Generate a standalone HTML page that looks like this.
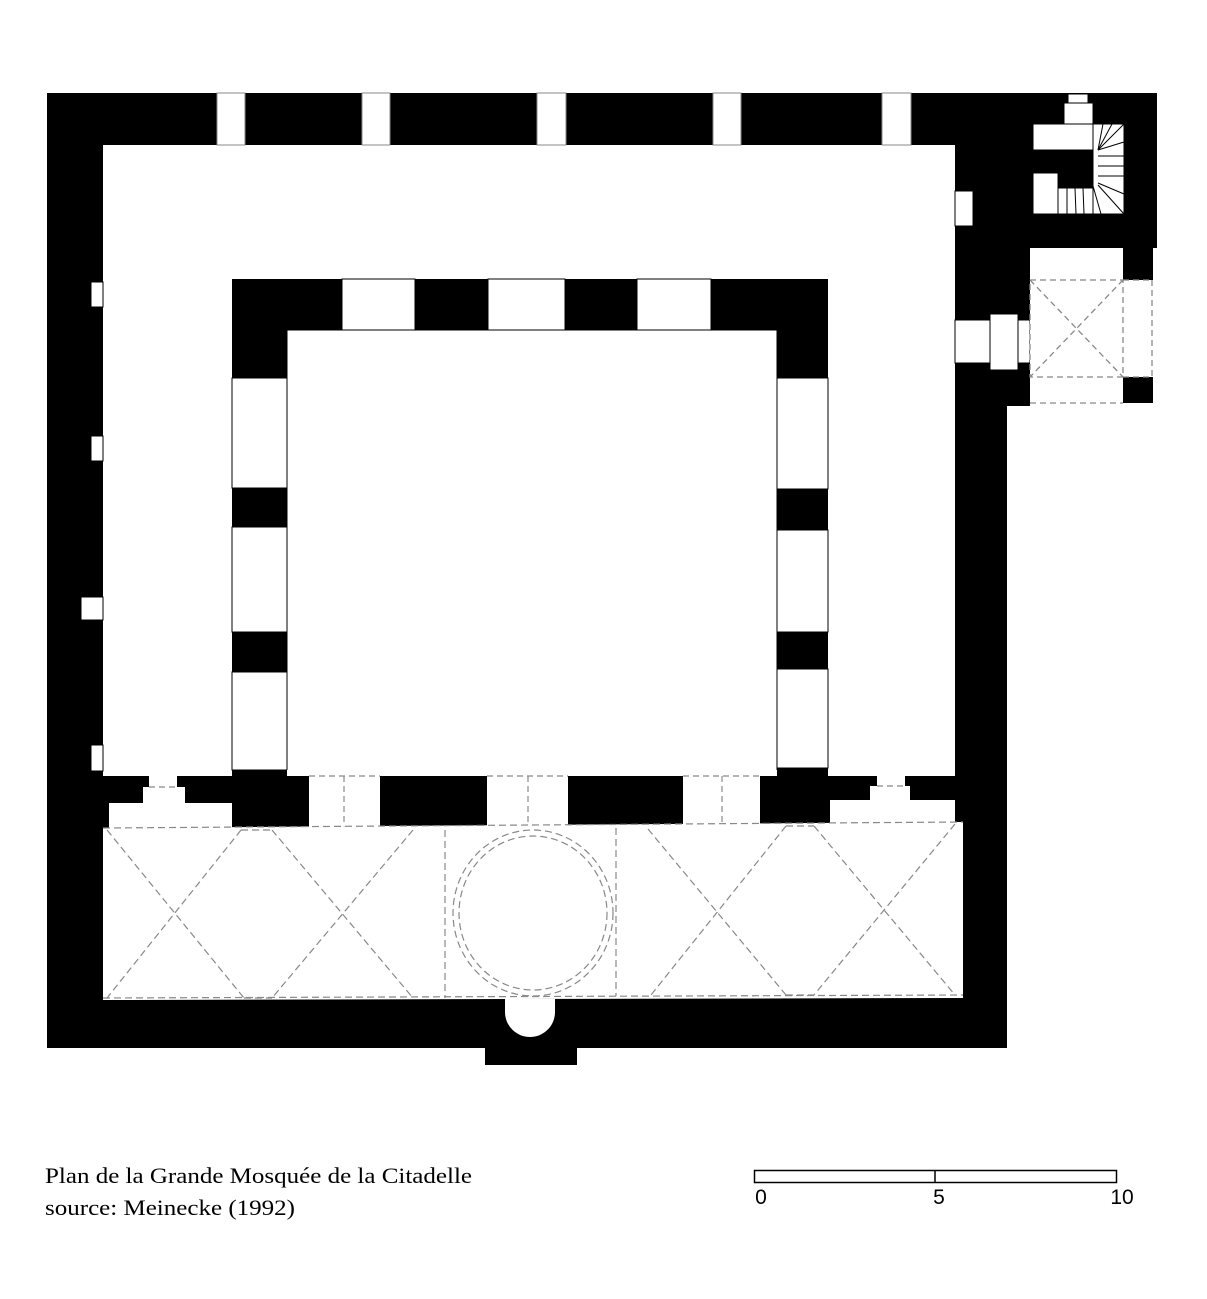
<!DOCTYPE html>
<html><head><meta charset="utf-8"><style>
html,body{margin:0;padding:0;background:#fff;}
svg{display:block;}
</style></head><body>
<svg width="1207" height="1299" viewBox="0 0 1207 1299" xmlns="http://www.w3.org/2000/svg">
<rect width="1207" height="1299" fill="#fff"/>
<g fill="#000">
<rect x="47" y="93" width="960" height="955"/>
<rect x="1007" y="93" width="150" height="155"/>
<rect x="1007" y="247" width="23" height="159"/>
<rect x="1123" y="247" width="30" height="33"/>
<rect x="1123" y="377" width="30" height="26"/>
<rect x="485" y="1048" width="92" height="17"/>
</g>
<rect x="103" y="145" width="852" height="631" fill="#fff"/>
<g fill="#fff" stroke="#888" stroke-width="1">
<rect x="217" y="93" width="28" height="52"/>
<rect x="362" y="93" width="28" height="52"/>
<rect x="537" y="93" width="29" height="52"/>
<rect x="713" y="93" width="28" height="52"/>
<rect x="882" y="93" width="29" height="52"/>
</g>
<g fill="#fff" stroke="#000" stroke-width="1">
<rect x="91" y="282" width="12" height="25"/>
<rect x="91" y="436" width="12" height="25"/>
<rect x="81" y="597" width="22" height="23"/>
<rect x="91" y="745" width="12" height="26"/>
<rect x="955" y="191" width="18" height="35"/>
<rect x="955" y="320" width="35" height="43"/>
<rect x="990" y="314" width="28" height="56"/>
<rect x="1018" y="320" width="12" height="43"/>
<rect x="1068" y="94" width="20" height="9"/>
<rect x="1064" y="103" width="29" height="21"/>
<rect x="1033" y="124" width="60" height="26"/>
<rect x="1093" y="124" width="31" height="90"/>
<rect x="1033" y="173" width="25" height="41"/>
<rect x="1058" y="188" width="35" height="26"/>
</g>
<rect x="1034" y="174" width="23" height="39" fill="#fff"/>
<rect x="1059" y="189" width="33" height="24" fill="#fff"/>
<rect x="1058" y="150" width="35" height="38" fill="#000"/>
<g stroke="#000" stroke-width="1">
<line x1="1098" y1="150" x2="1103" y2="124"/>
<line x1="1098" y1="150" x2="1112" y2="124"/>
<line x1="1098" y1="150" x2="1124" y2="124"/>
<line x1="1098" y1="150" x2="1124" y2="142"/>
<line x1="1098" y1="156" x2="1124" y2="156"/>
<line x1="1098" y1="166" x2="1124" y2="166"/>
<line x1="1098" y1="176" x2="1124" y2="176"/>
<line x1="1098" y1="183" x2="1124" y2="194"/>
<line x1="1098" y1="185" x2="1124" y2="214"/>
<line x1="1093" y1="186" x2="1101" y2="214"/>
<line x1="1083" y1="188" x2="1084" y2="214"/>
<line x1="1075" y1="188" x2="1076" y2="214"/>
<line x1="1067" y1="188" x2="1067" y2="214"/>
</g>
<rect x="1030" y="248" width="93" height="155" fill="#fff"/>
<rect x="1123" y="280" width="30" height="97" fill="#fff"/>
<g fill="none" stroke="#888" stroke-width="1.3" stroke-dasharray="6,4">
<rect x="1030" y="280" width="93" height="97"/>
<line x1="1123" y1="280" x2="1152" y2="280"/>
<line x1="1123" y1="377" x2="1152" y2="377"/>
<line x1="1152" y1="280" x2="1152" y2="377"/>
<line x1="1030" y1="280" x2="1123" y2="377"/>
<line x1="1123" y1="280" x2="1030" y2="377"/>
<line x1="1030" y1="403" x2="1123" y2="403"/>
</g>
<rect x="232" y="279" width="596" height="549" fill="#000"/>
<g fill="#fff" stroke="#000" stroke-width="1">
<rect x="287" y="330" width="490" height="446"/>
<rect x="342" y="279" width="73" height="51"/>
<rect x="488" y="279" width="77" height="51"/>
<rect x="637" y="279" width="74" height="51"/>
<rect x="232" y="378" width="55" height="110"/>
<rect x="232" y="527" width="55" height="105"/>
<rect x="232" y="672" width="55" height="98"/>
<rect x="777" y="378" width="51" height="111"/>
<rect x="777" y="530" width="51" height="102"/>
<rect x="777" y="669" width="51" height="99"/>
</g>
<rect x="103" y="776" width="860" height="52" fill="#000"/>
<rect x="232" y="770" width="596" height="10" fill="#000"/>
<rect x="287" y="770" width="490" height="6" fill="#fff"/>
<g fill="#fff">
<rect x="309" y="776" width="71" height="51"/>
<rect x="487" y="776" width="81" height="51"/>
<rect x="683" y="776" width="77" height="51"/>
<rect x="109" y="803" width="123" height="25"/>
<rect x="143" y="787" width="42" height="16"/>
<rect x="149" y="776" width="28" height="11"/>
<rect x="830" y="800" width="125" height="26"/>
<rect x="870" y="786" width="40" height="16"/>
<rect x="877" y="776" width="28" height="10"/>
</g>
<g fill="none" stroke="#888" stroke-width="1.2" stroke-dasharray="6,4">
<line x1="309" y1="776" x2="380" y2="776"/><line x1="344" y1="776" x2="344" y2="827"/>
<line x1="487" y1="776" x2="568" y2="776"/><line x1="528" y1="776" x2="528" y2="827"/>
<line x1="683" y1="776" x2="760" y2="776"/><line x1="722" y1="776" x2="722" y2="827"/>
<line x1="149" y1="787" x2="177" y2="787"/>
<line x1="877" y1="786" x2="905" y2="786"/>
</g>
<polygon points="103,828 963,822 963,998 103,1000" fill="#fff"/>
<g fill="none" stroke="#888" stroke-width="1.2" stroke-dasharray="7,4">
<polyline points="103,828 963,822"/>
<line x1="107" y1="830" x2="244" y2="998"/>
<line x1="241" y1="830" x2="107" y2="998"/>
<line x1="272" y1="830" x2="413" y2="998"/>
<line x1="413" y1="830" x2="272" y2="998"/>
<line x1="241" y1="830" x2="272" y2="830"/>
<line x1="244" y1="998" x2="272" y2="998"/>
<line x1="445" y1="830" x2="445" y2="998"/>
<line x1="616" y1="828" x2="616" y2="996"/>
<line x1="103" y1="998" x2="963" y2="995"/>
<ellipse cx="533" cy="913" rx="80" ry="83"/>
<ellipse cx="533" cy="913" rx="74" ry="77"/>
<line x1="648" y1="829" x2="786" y2="995"/>
<line x1="786" y1="826" x2="651" y2="995"/>
<line x1="814" y1="826" x2="955" y2="995"/>
<line x1="955" y1="824" x2="814" y2="995"/>
<line x1="786" y1="826" x2="814" y2="826"/>
<line x1="786" y1="995" x2="814" y2="995"/>
</g>
<path d="M505,999 L505,1012 A25,25 0 0 0 555,1012 L555,999 Z" fill="#fff"/>
<text x="45" y="1183" font-family="'Liberation Serif',serif" font-size="22" fill="#000" textLength="427" lengthAdjust="spacingAndGlyphs">Plan de la Grande Mosquée de la Citadelle</text>
<text x="45" y="1215" font-family="'Liberation Serif',serif" font-size="22" fill="#000" textLength="250" lengthAdjust="spacingAndGlyphs">source: Meinecke (1992)</text>
<rect x="754.5" y="1170.5" width="362" height="12" fill="#fff" stroke="#000" stroke-width="1.5"/>
<line x1="935" y1="1170" x2="935" y2="1183" stroke="#000" stroke-width="1.5"/>
<g font-family="'Liberation Sans',sans-serif" font-size="21" fill="#000" text-anchor="middle">
<text x="761" y="1204">0</text>
<text x="939" y="1204">5</text>
<text x="1122" y="1204">10</text>
</g>
</svg>
</body></html>
